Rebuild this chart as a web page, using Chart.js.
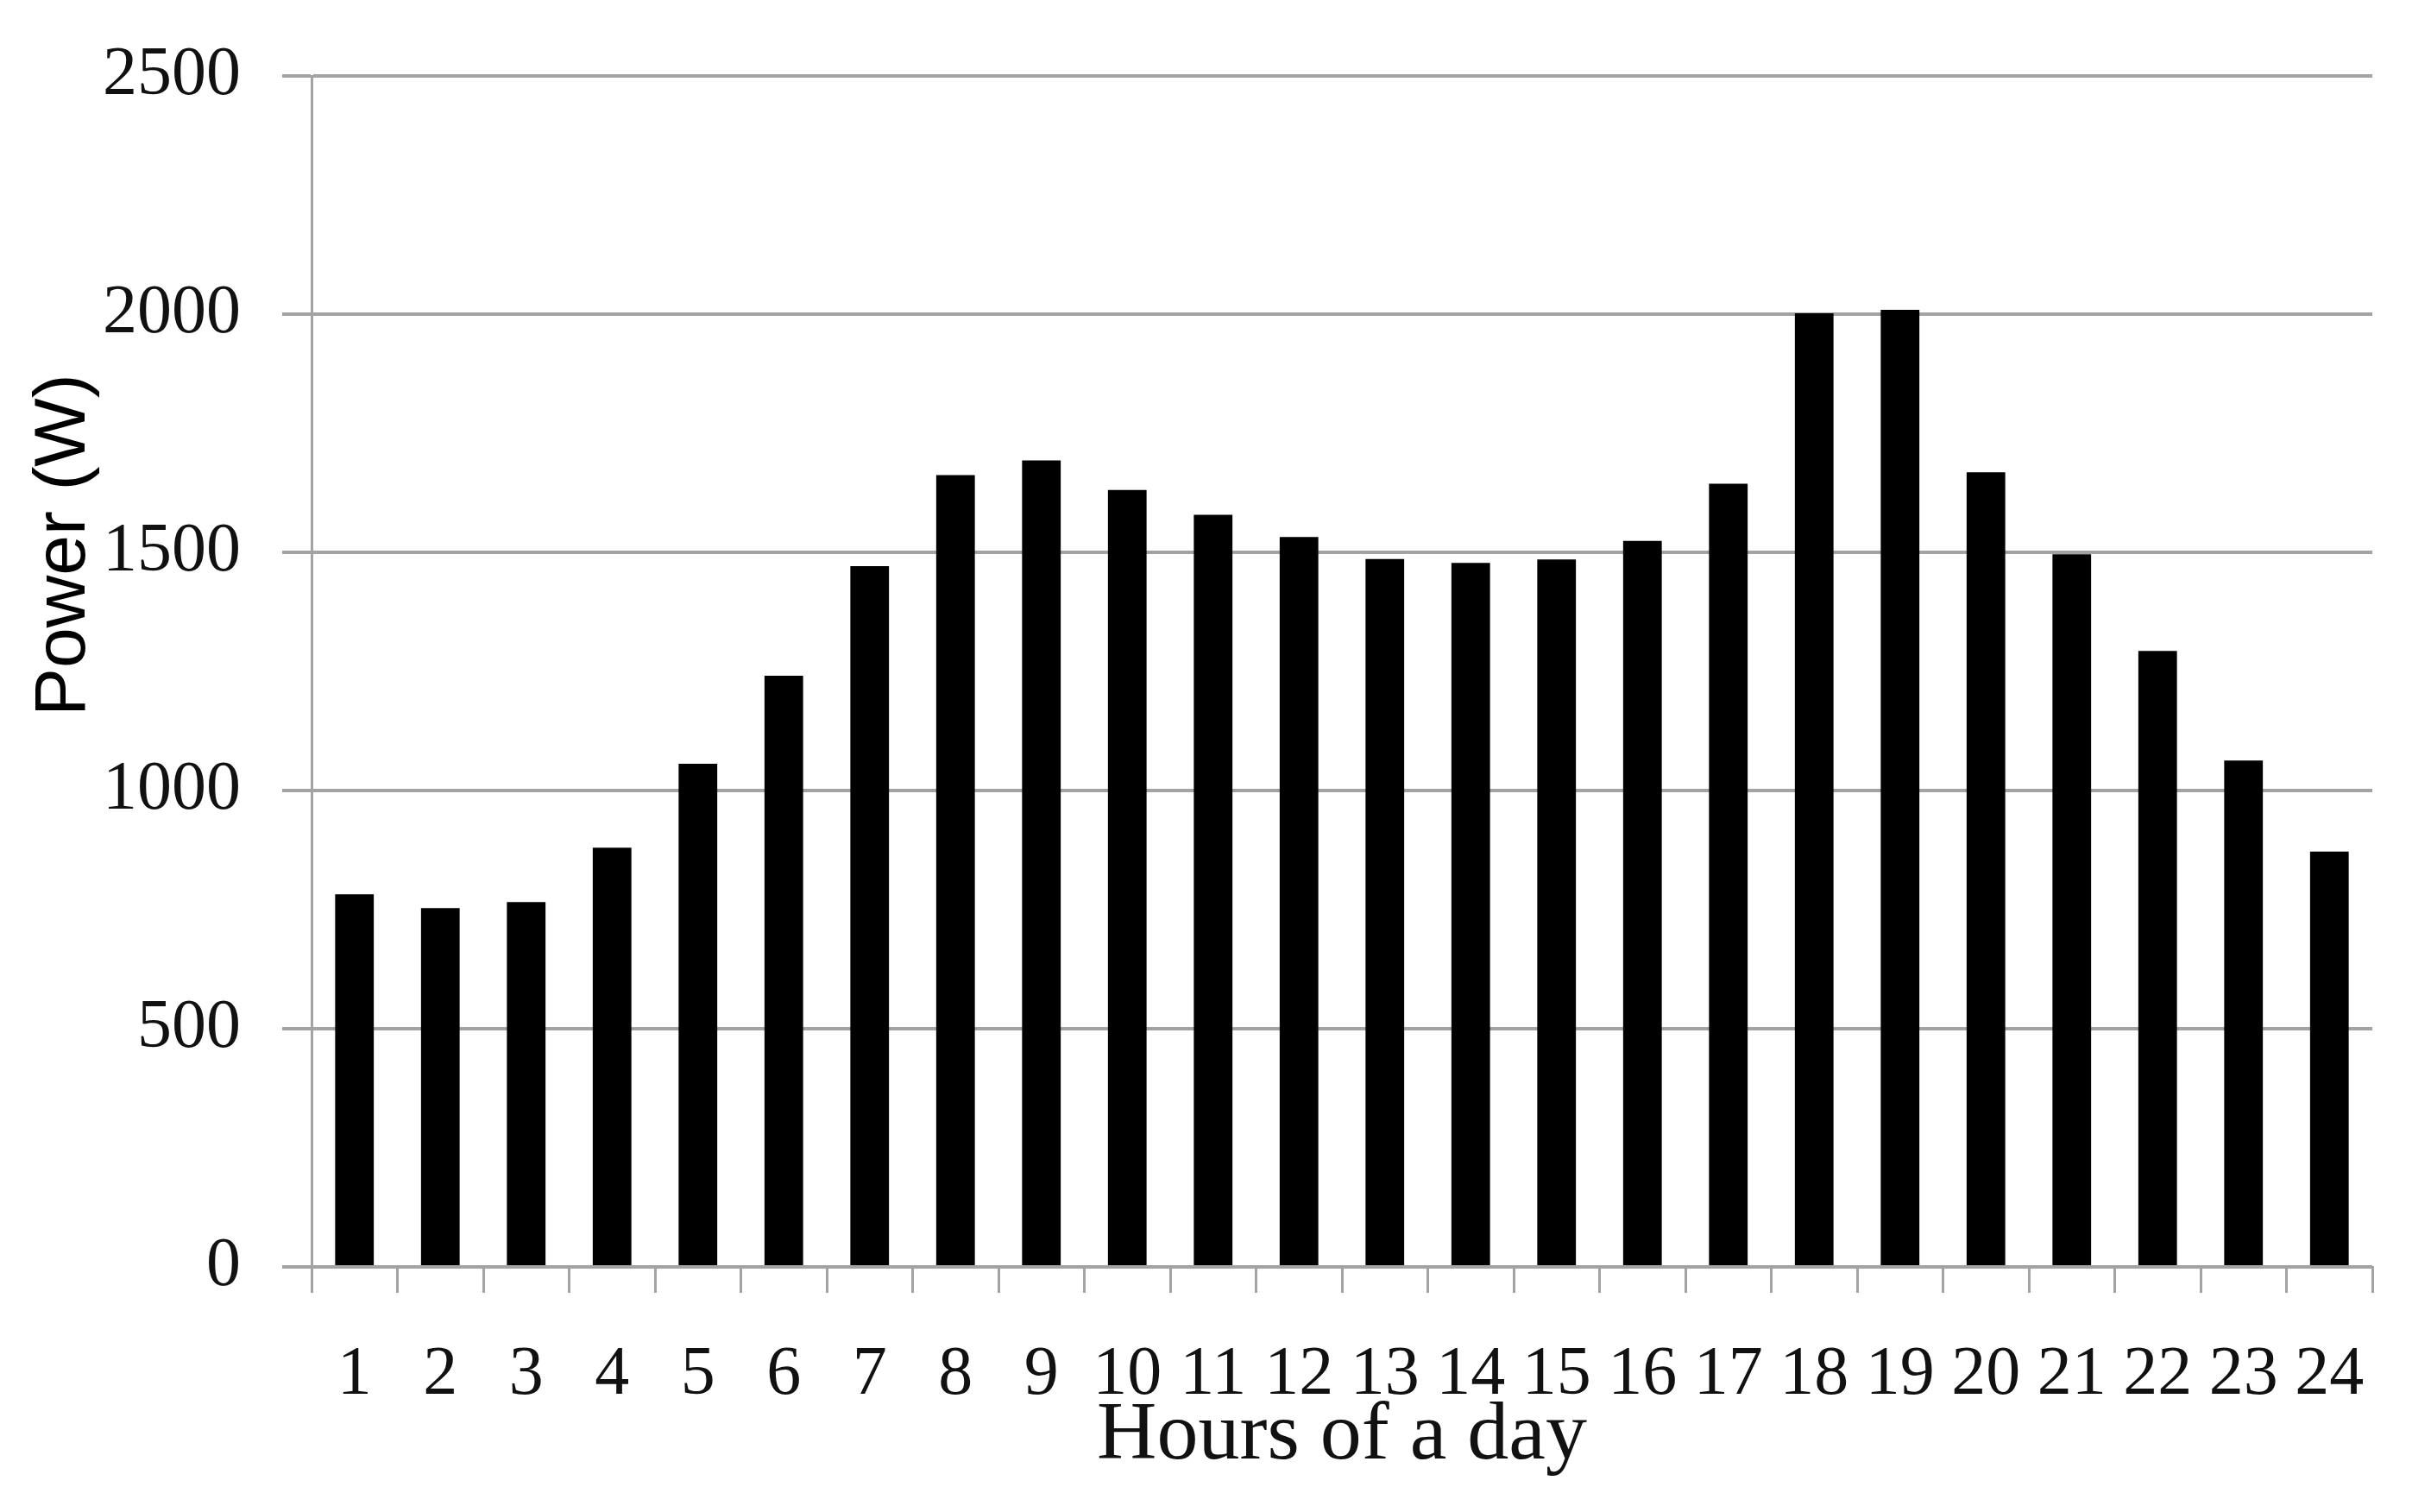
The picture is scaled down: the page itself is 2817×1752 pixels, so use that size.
<!DOCTYPE html>
<html>
<head>
<meta charset="utf-8">
<script src="https://cdn.jsdelivr.net/npm/chart.js@4/dist/chart.umd.min.js"></script>
<style>
  body { margin: 0; background: #fff; }
</style>
</head>
<body>
<canvas id="powerChart" width="2817" height="1752"></canvas>
<script>
// hours on the x axis
const hours = ['1','2','3','4','5','6','7','8','9','10','11','12','13','14','15','16','17','18','19','20','21','22','23','24'];
// power per hour (W)
const power = [782, 753, 766, 880, 1056, 1241, 1471, 1662, 1693, 1631, 1579, 1532, 1486, 1478, 1485, 1524, 1644, 2002, 2009, 1668, 1496, 1293, 1063, 872];
const yMin = 0;
const yMax = 2500;
const yStep = 500;

const gridGray = '#a3a3a3';
const serif = "'Liberation Serif', 'DejaVu Serif', serif";

// y title sits above the middle of the axis in the original, so draw it here
const yTitlePlugin = {
  id: 'yTitle',
  afterDraw(chart) {
    const { ctx, chartArea } = chart;
    ctx.save();
    ctx.translate(75, chartArea.top + chartArea.height * 0.394);
    ctx.rotate(-Math.PI / 2);
    ctx.textAlign = 'center';
    ctx.textBaseline = 'middle';
    ctx.fillStyle = '#000';
    ctx.font = "84px 'Liberation Sans', Arial, sans-serif";
    ctx.fillText('Power (W)', 0, 0);
    ctx.restore();
  }
};

new Chart(document.getElementById('powerChart'), {
  type: 'bar',
  data: {
    labels: hours,
    datasets: [{
      label: 'Power',
      data: power,
      backgroundColor: '#000',
      borderWidth: 0,
      categoryPercentage: 1,
      barPercentage: 0.45,
    }],
  },
  options: {
    responsive: false,
    devicePixelRatio: 1,
    animation: false,
    layout: {
      padding: { top: 88, right: 68, left: 0, bottom: 0 },
    },
    plugins: {
      legend: { display: false },
      tooltip: { enabled: false },
    },
    scales: {
      x: {
        grid: {
          offset: true,
          drawOnChartArea: false,
          drawTicks: true,
          tickLength: 30,
          color: gridGray,
          lineWidth: 3,
        },
        border: { display: true, color: gridGray, width: 3 },
        ticks: {
          color: '#111',
          font: { family: serif, size: 80 },
          padding: 48,
          maxRotation: 0,
          autoSkip: false,
        },
        title: {
          display: true,
          text: 'Hours of a day',
          color: '#111',
          font: { family: serif, size: 96, lineHeight: 1 },
          padding: { top: 0, bottom: 39 },
        },
        afterFit(scale) { scale.height = 284; },
      },
      y: {
        min: yMin,
        max: yMax,
        ticks: {
          stepSize: yStep,
          color: '#111',
          font: { family: serif, size: 80 },
          padding: 48,
          callback: (v) => String(v),
        },
        grid: {
          color: gridGray,
          lineWidth: 4,
          drawTicks: true,
          tickLength: 34,
        },
        border: { display: true, color: gridGray, width: 3 },
        afterFit(scale) {
          scale.width = 361;
          scale.paddingTop = 0;
          scale.paddingBottom = 0;
        },
      },
    },
  },
  plugins: [yTitlePlugin],
});
</script>
</body>
</html>
